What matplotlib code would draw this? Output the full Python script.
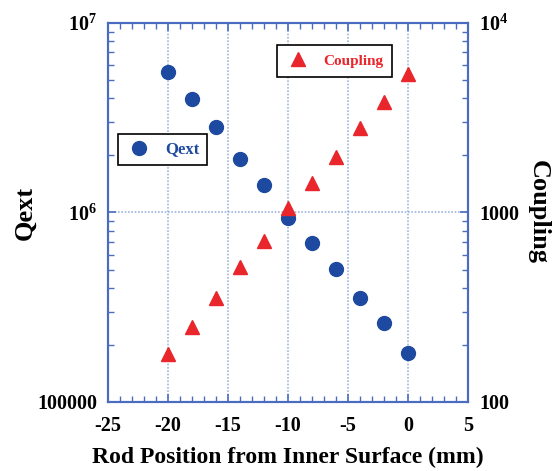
"""Qext and coupling versus tuning rod position, dual log axes."""

import matplotlib

matplotlib.use("Agg")
import matplotlib.pyplot as plt
from matplotlib.ticker import FixedLocator, LogLocator, MultipleLocator, NullFormatter

plt.rcParams["font.family"] = "Liberation Serif"
plt.rcParams["font.weight"] = "bold"
plt.rcParams["axes.unicode_minus"] = False
plt.rcParams["mathtext.fontset"] = "custom"
plt.rcParams["mathtext.rm"] = "Liberation Serif:bold"
plt.rcParams["mathtext.bf"] = "Liberation Serif:bold"

rod_position = [-20, -18, -16, -14, -12, -10, -8, -6, -4, -2, 0]
qext = [5.53e6, 3.95e6, 2.81e6, 1.91e6, 1.39e6, 9.3e5, 6.87e5, 5.05e5, 3.52e5, 2.60e5, 1.82e5]
coupling = [179, 250, 352, 514, 710, 1052, 1426, 1955, 2780, 3820, 5380]

qext_ticks = [1e5, 1e6, 1e7]
qext_labels = ["100000", r"$\mathbf{10^{6}}$", r"$\mathbf{10^{7}}$"]
coupling_ticks = [100, 1000, 10000]
coupling_labels = ["100", "1000", r"$\mathbf{10^{4}}$"]

AXIS_BLUE = "#4a6cc0"
GRID_BLUE = "#9fb4dc"
DOT_BLUE = "#1d4aa0"
TRI_RED = "#e8262b"

fig = plt.figure(figsize=(5.55, 4.71), dpi=100, facecolor="white")
ax = fig.add_axes([0.1946, 0.1465, 0.6486, 0.8047])
ax2 = ax.twinx()

ax.set_xlim(-25, 5)
ax.set_yscale("log")
ax.set_ylim(1e5, 1e7)
ax2.set_yscale("log")
ax2.set_ylim(100, 1e4)

ax.xaxis.set_major_locator(MultipleLocator(5))
ax.xaxis.set_minor_locator(MultipleLocator(1))
ax.yaxis.set_major_locator(FixedLocator(qext_ticks))
ax.set_yticklabels(qext_labels)
ax.yaxis.set_minor_locator(LogLocator(base=10, subs=range(2, 10)))
ax.yaxis.set_minor_formatter(NullFormatter())
ax2.yaxis.set_major_locator(FixedLocator(coupling_ticks))
ax2.set_yticklabels(coupling_labels)
ax2.yaxis.set_minor_locator(LogLocator(base=10, subs=range(2, 10)))
ax2.yaxis.set_minor_formatter(NullFormatter())

for a in (ax, ax2):
    for spine in a.spines.values():
        spine.set_color(AXIS_BLUE)
        spine.set_linewidth(1.5)
    a.tick_params(which="major", direction="in", length=6, width=1.2,
                  color=AXIS_BLUE, labelsize=14.5, pad=6)
    a.tick_params(which="minor", direction="in", length=4, width=1.0,
                  color=AXIS_BLUE)
ax.tick_params(which="both", top=True)
ax.tick_params(axis="x", which="major", pad=10)
ax.tick_params(axis="y", which="major", pad=8)
ax2.tick_params(axis="y", which="major", pad=8)

# dotted grid only at interior major positions
for x in (-20, -15, -10, -5, 0):
    ax.axvline(x, color=GRID_BLUE, linestyle=(0, (1, 1)), linewidth=1.2, zorder=0)
ax.axhline(1e6, color=GRID_BLUE, linestyle=(0, (1, 1)), linewidth=1.2, zorder=0)

ax.plot(rod_position, qext, linestyle="none", marker="o", markersize=10,
        color=DOT_BLUE, label="Qext", zorder=3)
ax2.plot(rod_position, coupling, linestyle="none", marker="^", markersize=10,
         color=TRI_RED, label="Coupling", zorder=3)

ax.set_xlabel("Rod Position from Inner Surface (mm)", fontsize=17, fontweight="bold",
              labelpad=8)
ax.set_ylabel("Qext", fontsize=19, fontweight="bold", labelpad=0)
ax2.set_ylabel("Coupling", fontsize=19, fontweight="bold", rotation=270, labelpad=22)

leg1 = ax.legend(loc="upper left", bbox_to_anchor=(0.028, 0.707), borderaxespad=0,
                 fancybox=False, edgecolor="black", framealpha=1, fontsize=12,
                 handletextpad=0.8, borderpad=0.45, handlelength=1.6)
leg1.get_frame().set_linewidth(1.2)
for t in leg1.get_texts():
    t.set_color(DOT_BLUE)
ax2.set_zorder(ax.get_zorder() + 1)
ax2.patch.set_visible(False)
leg2 = ax2.legend(loc="upper left", bbox_to_anchor=(0.47, 0.942), borderaxespad=0,
                  fancybox=False, edgecolor="black", framealpha=1, fontsize=11,
                  handletextpad=0.9, borderpad=0.6, handlelength=1.5)
leg2.get_frame().set_linewidth(1.2)
for t in leg2.get_texts():
    t.set_color(TRI_RED)

fig.savefig("out.png", dpi=100, facecolor="white")
